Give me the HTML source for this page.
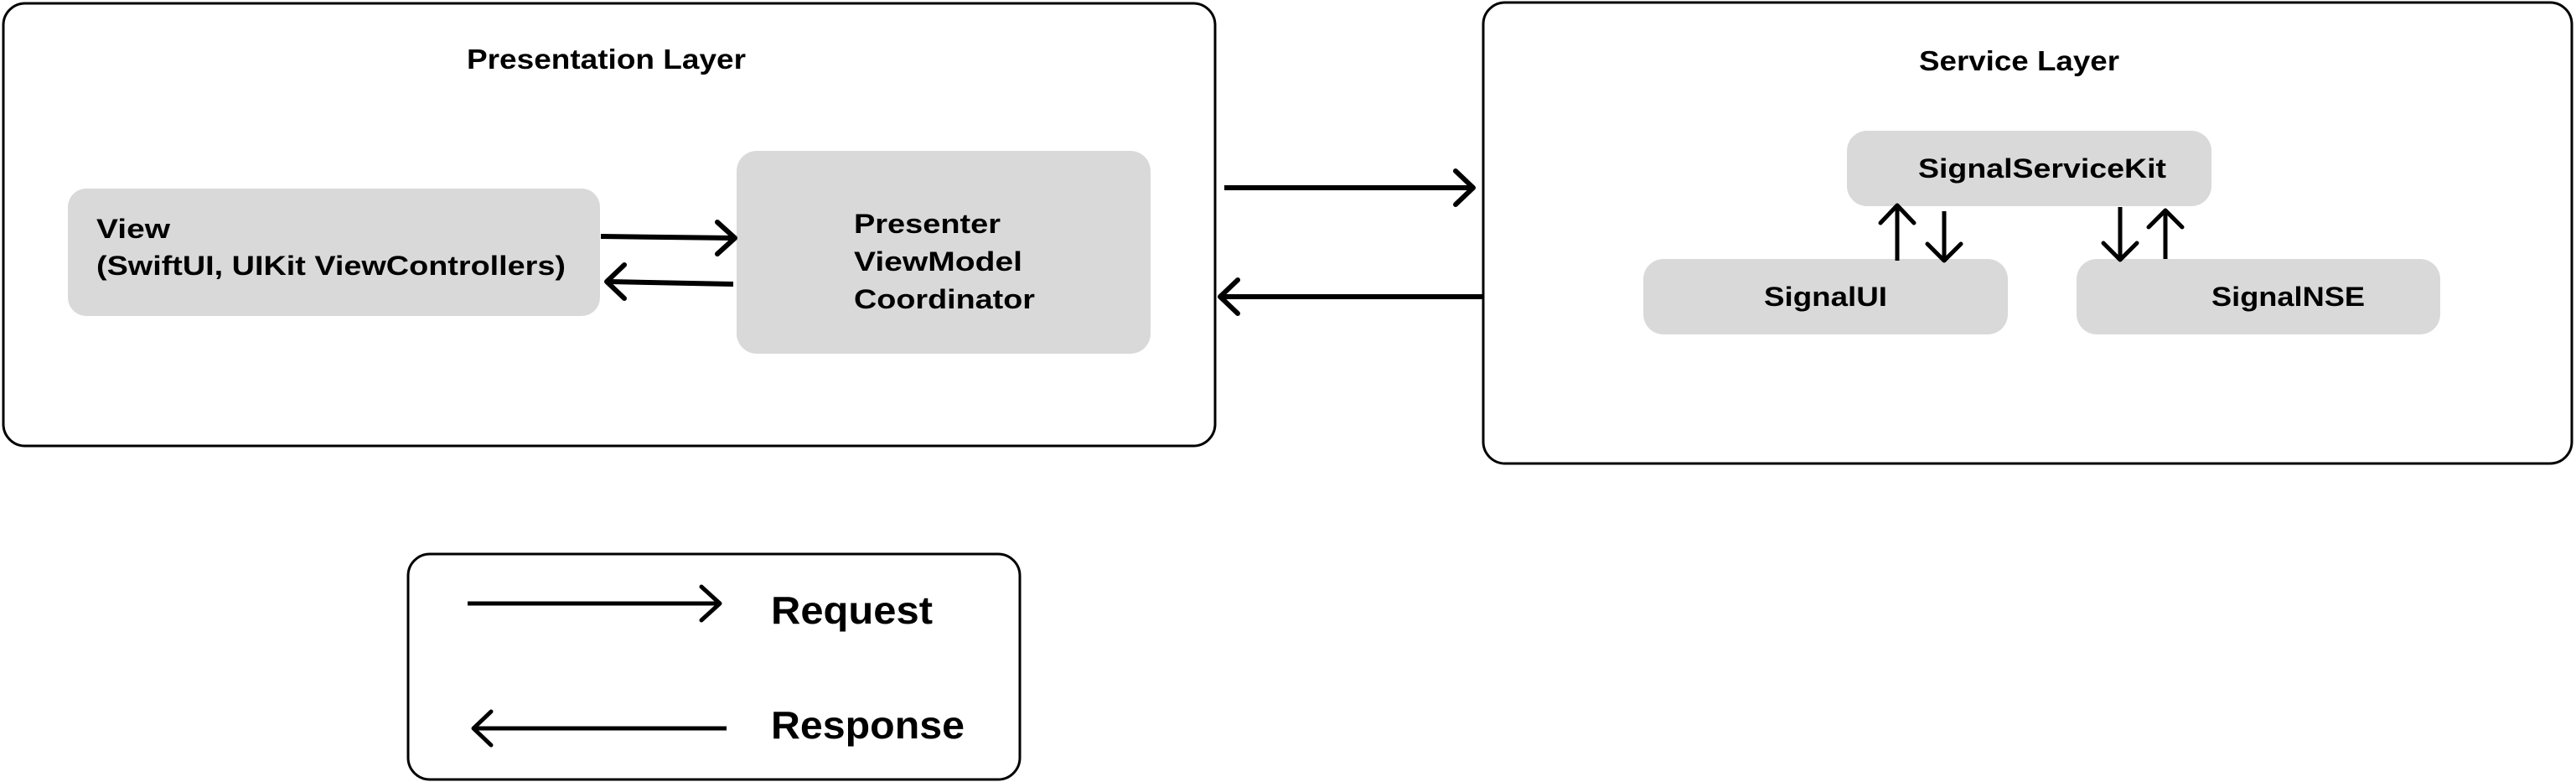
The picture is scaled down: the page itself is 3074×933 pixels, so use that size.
<!DOCTYPE html>
<html><head><meta charset="utf-8"><style>
html,body{margin:0;padding:0;background:#fff;}
svg{display:block;}
text{font-family:"Liberation Sans",Arial,sans-serif;font-weight:bold;fill:#000;}
</style></head><body>
<svg width="3074" height="933" viewBox="0 0 3074 933" xmlns="http://www.w3.org/2000/svg">
<rect x="0" y="0" width="3074" height="933" fill="#fff"/>
<!-- Presentation layer -->
<rect x="4" y="4" width="1446" height="528" rx="26" fill="#fff" stroke="#000" stroke-width="3"/>
<text x="557" y="82" font-size="33" textLength="333" lengthAdjust="spacingAndGlyphs">Presentation Layer</text>
<rect x="81" y="225" width="635" height="152" rx="22" fill="#d9d9d9"/>
<text x="115" y="284" font-size="32" textLength="88" lengthAdjust="spacingAndGlyphs">View</text>
<text x="115" y="328" font-size="32" textLength="560" lengthAdjust="spacingAndGlyphs">(SwiftUI, UIKit ViewControllers)</text>
<rect x="879" y="180" width="494" height="242" rx="24" fill="#d9d9d9"/>
<text x="1019" y="278" font-size="32" textLength="175" lengthAdjust="spacingAndGlyphs">Presenter</text>
<text x="1019" y="323" font-size="32" textLength="201" lengthAdjust="spacingAndGlyphs">ViewModel</text>
<text x="1019" y="368" font-size="32" textLength="216" lengthAdjust="spacingAndGlyphs">Coordinator</text>
<g stroke="#000" stroke-width="6" fill="none" stroke-linecap="round" stroke-linejoin="round">
<line x1="717" y1="282" x2="876" y2="284" stroke-linecap="butt"/>
<polyline points="856,265 877,284 856,303"/>
<line x1="875" y1="339" x2="727" y2="336" stroke-linecap="butt"/>
<polyline points="745,316 724,336 745,356"/>
</g>
<!-- between layers -->
<g stroke="#000" stroke-width="6" fill="none" stroke-linecap="round" stroke-linejoin="round">
<line x1="1461" y1="224" x2="1756" y2="224" stroke-linecap="butt"/>
<polyline points="1737,204 1758,224 1737,244"/>
<line x1="1770" y1="354" x2="1458" y2="354" stroke-linecap="butt"/>
<polyline points="1477,334 1456,354 1477,374"/>
</g>
<!-- Service layer -->
<rect x="1770" y="3" width="1299" height="550" rx="26" fill="#fff" stroke="#000" stroke-width="3"/>
<text x="2290" y="84" font-size="33" textLength="239" lengthAdjust="spacingAndGlyphs">Service Layer</text>
<rect x="2204" y="156" width="435" height="90" rx="24" fill="#d9d9d9"/>
<text x="2289" y="212" font-size="32" textLength="296" lengthAdjust="spacingAndGlyphs">SignalServiceKit</text>
<rect x="1961" y="309" width="435" height="90" rx="24" fill="#d9d9d9"/>
<text x="2105" y="365" font-size="32" textLength="147" lengthAdjust="spacingAndGlyphs">SignalUI</text>
<rect x="2478" y="309" width="434" height="90" rx="24" fill="#d9d9d9"/>
<text x="2639" y="365" font-size="32" textLength="183" lengthAdjust="spacingAndGlyphs">SignalNSE</text>
<g stroke="#000" stroke-width="5" fill="none" stroke-linecap="round" stroke-linejoin="round">
<line x1="2264" y1="311" x2="2264" y2="246" stroke-linecap="butt"/>
<polyline points="2244,266 2264,245 2284,266"/>
<line x1="2320" y1="252" x2="2320" y2="310" stroke-linecap="butt"/>
<polyline points="2300,291 2320,311 2340,291"/>
<line x1="2530" y1="247" x2="2530" y2="309" stroke-linecap="butt"/>
<polyline points="2510,290 2530,310 2550,290"/>
<line x1="2584" y1="309" x2="2584" y2="252" stroke-linecap="butt"/>
<polyline points="2564,271 2584,251 2604,271"/>
</g>
<!-- Legend -->
<rect x="487" y="661" width="730" height="269" rx="26" fill="#fff" stroke="#000" stroke-width="3"/>
<g stroke="#000" stroke-width="5" fill="none" stroke-linecap="round" stroke-linejoin="round">
<line x1="558" y1="720" x2="858" y2="720" stroke-linecap="butt"/>
<polyline points="837,700 859,720 837,740"/>
<line x1="867" y1="869" x2="566" y2="869" stroke-linecap="butt"/>
<polyline points="586,849 565,869 586,889"/>
</g>
<text x="920" y="744" font-size="46" textLength="193" lengthAdjust="spacingAndGlyphs">Request</text>
<text x="920" y="881" font-size="46" textLength="231" lengthAdjust="spacingAndGlyphs">Response</text>
</svg>
</body></html>
